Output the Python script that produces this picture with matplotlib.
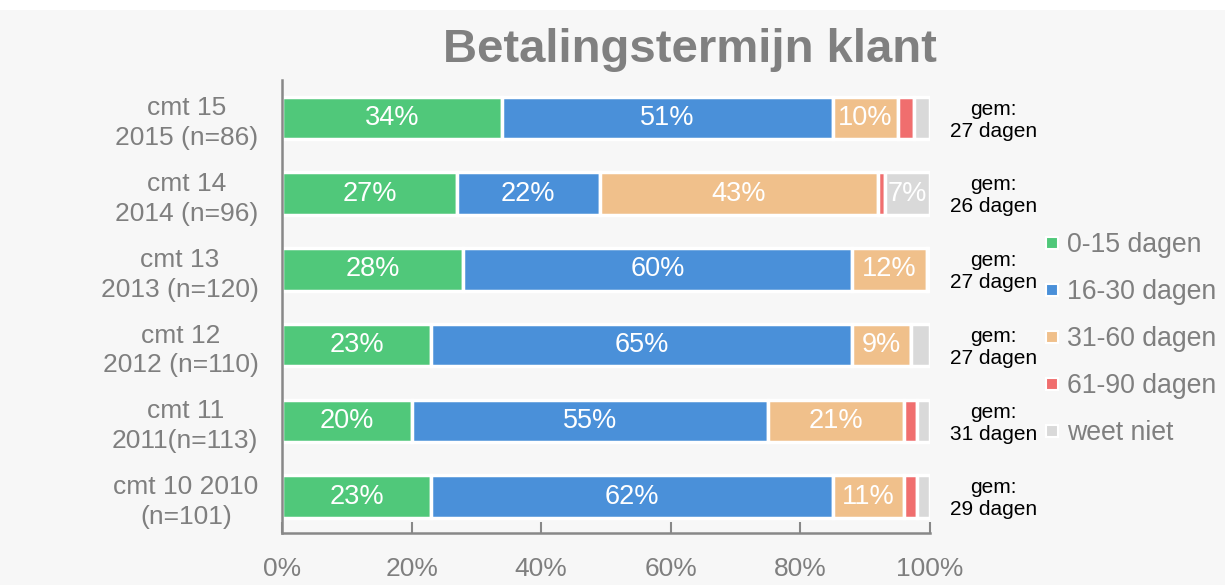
import matplotlib.pyplot as plt
import matplotlib.patches as mpatches
from matplotlib.lines import Line2D
import numpy as np

plt.rcParams['font.family'] = ['Liberation Sans', 'DejaVu Sans']

# rows from top to bottom
rows = ["cmt 15\n2015 (n=86)", "cmt 14\n2014 (n=96)", "cmt 13\n2013 (n=120)",
        "cmt 12\n2012 (n=110)", "cmt 11\n2011(n=113)", "cmt 10 2010\n(n=101)"]
gemiddeld = [27, 26, 27, 27, 31, 29]

categories = ["0-15 dagen", "16-30 dagen", "31-60 dagen", "61-90 dagen", "weet niet"]
d0_15 = [34, 27, 28, 23, 20, 23]
d16_30 = [51, 22, 60, 65, 55, 62]
d31_60 = [10, 43, 11.5, 9, 21, 11]
d61_90 = [2.5, 1, 0.5, 0, 2, 2]
weet_niet = [2.5, 7, 0, 3, 2, 2]

colors = ["#50c87a", "#4a90d9", "#f0c08b", "#f06e6e", "#d9d9d9"]
bg = "#f7f7f7"
grey_txt = "#7f7f7f"

series = [d0_15, d16_30, d31_60, d61_90, weet_niet]

fig = plt.figure(figsize=(12.25, 5.85), dpi=100, facecolor="white")
fig.patches.append(mpatches.Rectangle((0, 0), 1, 1 - 10 / 585, transform=fig.transFigure,
                                      facecolor=bg, edgecolor="none", zorder=-10))
ax = fig.add_axes([282 / 1225, 1 - 533 / 585, (930 - 282) / 1225, (533 - 80) / 585])
ax.set_facecolor(bg)

y = np.arange(len(rows))[::-1]
left = np.zeros(len(rows))
for vals, col, name in zip(series, colors, categories):
    vals = np.array(vals, dtype=float)
    ax.barh(y, vals, left=left, height=0.56, color=col, edgecolor="white",
            linewidth=2.5, label=name)
    for yi, l, v in zip(y, left, vals):
        if v >= 5:
            ax.text(l + v / 2, yi, f"{int(v + 0.5)}%", ha="center", va="center",
                    color="white", fontsize=19.5)
    left += vals

for yi, g in zip(y, gemiddeld):
    ax.text(109.8, yi - 0.03, f"gem:\n{g} dagen", ha="center", va="center", fontsize=15,
            color="black", linespacing=1.2, clip_on=False)

ax.set_xlim(0, 100)
ax.set_ylim(-0.48, 5.5)
ax.set_xticks([0, 20, 40, 60, 80, 100])
ax.set_xticklabels(["0%", "20%", "40%", "60%", "80%", "100%"])
ax.set_yticks(y)
ax.set_yticklabels(rows)
for lbl in ax.get_yticklabels():
    lbl.set_multialignment("center")
    lbl.set_linespacing(1.3)
ax.tick_params(axis="x", direction="in", length=8, width=1.5, color="#888888",
               labelsize=19, labelcolor=grey_txt, pad=17)
ax.tick_params(axis="y", length=0, labelsize=19, labelcolor=grey_txt, pad=17)
for s in ["top", "right"]:
    ax.spines[s].set_visible(False)
for s in ["left", "bottom"]:
    ax.spines[s].set_color("#888888")
    ax.spines[s].set_linewidth(1.8)

fig.text(690 / 1225, 1 - 62 / 585, "Betalingstermijn klant", ha="center", va="baseline",
         fontsize=34, fontweight="bold", color="#808080")

handles = [Line2D([], [], marker="s", linestyle="none", markersize=8, markerfacecolor=c,
                  markeredgecolor="white", markeredgewidth=1.5) for c in colors]
leg = fig.legend(handles, categories, loc="upper left", bbox_to_anchor=(1044 / 1225, 1 - 232 / 585),
                 frameon=False, fontsize=19.2, labelcolor=grey_txt, handlelength=0.6,
                 handletextpad=0.25, labelspacing=0.79, borderpad=0, borderaxespad=0)

fig.savefig("out.png", dpi=100, facecolor=fig.get_facecolor())
